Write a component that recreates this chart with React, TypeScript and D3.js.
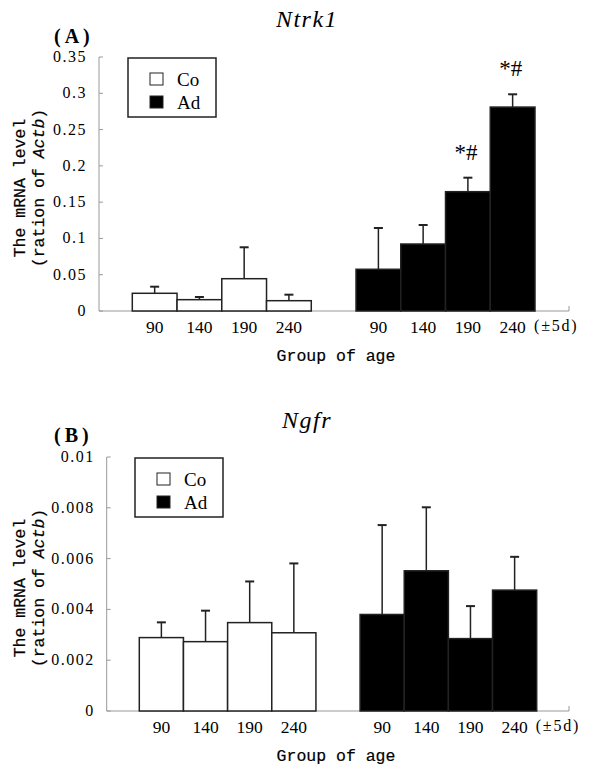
import React from "react";
import * as d3 from "d3";

const ageGroups = ["90", "140", "190", "240"];
const seriesNames = ["Co", "Ad"];

// Panel A: Ntrk1
const ntrkCo = [0.0244, 0.0156, 0.0445, 0.0142];
const ntrkCoErr = [0.0091, 0.0037, 0.0433, 0.0083];
const ntrkAd = [0.0575, 0.0923, 0.1644, 0.281];
const ntrkAdErr = [0.0569, 0.0262, 0.0193, 0.0176];
const ntrkMarks = ["", "", "*#", "*#"];
const ntrkTicks = [0, 0.05, 0.1, 0.15, 0.2, 0.25, 0.3, 0.35];

// Panel B: Ngfr
const ngfrCo = [0.00289, 0.00273, 0.00348, 0.00308];
const ngfrCoErr = [0.0006, 0.00122, 0.00162, 0.00273];
const ngfrAd = [0.0038, 0.00552, 0.00285, 0.00476];
const ngfrAdErr = [0.00352, 0.0025, 0.00128, 0.00131];
const ngfrMarks = ["", "", "", ""];
const ngfrTicks = [0, 0.002, 0.004, 0.006, 0.008, 0.01];

const mono = "'Liberation Mono', 'DejaVu Sans Mono', monospace";
const serif = "'Liberation Serif', 'DejaVu Serif', serif";

type PanelProps = {
  letter: string;
  gene: string;
  co: number[];
  coErr: number[];
  ad: number[];
  adErr: number[];
  marks: string[];
  ticks: number[];
  yMax: number;
  axisX: number;
  y0: number;
  yTop: number;
  barStart: number;
  barEnd: number;
  xEnd: number;
  legend: { x: number; y: number; w: number; h: number };
  titleY: number;
  letterY: number;
};

function Panel(p: PanelProps) {
  const slots = [
    ...ageGroups.map((g) => "Co" + g),
    "gap",
    ...ageGroups.map((g) => "Ad" + g),
  ];
  const x = d3.scaleBand<string>().domain(slots).range([p.barStart, p.barEnd]).padding(0);
  const y = d3.scaleLinear().domain([0, p.yMax]).range([p.y0, p.yTop]);
  const bw = x.bandwidth();
  const bars: { key: string; v: number; e: number; fill: string; mark: string; label: string }[] = [];
  ageGroups.forEach((g, i) => {
    bars.push({ key: "Co" + g, v: p.co[i], e: p.coErr[i], fill: "#fff", mark: "", label: g });
  });
  ageGroups.forEach((g, i) => {
    bars.push({ key: "Ad" + g, v: p.ad[i], e: p.adErr[i], fill: "#000", mark: p.marks[i], label: g });
  });
  const fmt = (t: number) => (t === 0 ? "0" : String(+t.toFixed(4)));
  const midY = (p.y0 + p.yTop) / 2 + 4;
  const capW = 9;
  return (
    <g>
      <text x={307} y={p.titleY} textAnchor="middle" fontFamily={serif} fontStyle="italic" fontSize={24} letterSpacing={1.5}>
        {p.gene}
      </text>
      <text x={54} y={p.letterY} fontFamily={serif} fontWeight="bold" fontSize={20} letterSpacing={4}>
        {"(" + p.letter + ")"}
      </text>
      {/* axes */}
      <line x1={p.axisX} x2={p.axisX} y1={p.yTop} y2={p.y0} stroke="#999" strokeWidth={1} />
      <line x1={p.axisX} x2={p.xEnd} y1={p.y0} y2={p.y0} stroke="#999" strokeWidth={1} />
      <line x1={p.xEnd} x2={p.xEnd} y1={p.y0 - 5} y2={p.y0} stroke="#999" strokeWidth={1} />
      {p.ticks.map((t) => (
        <g key={t}>
          <line x1={p.axisX} x2={p.axisX + 4} y1={y(t)} y2={y(t)} stroke="#999" />
          <text x={p.axisX - 12} y={y(t) + 5} textAnchor="end" fontFamily={serif} fontSize={16} letterSpacing={1.5}>
            {fmt(t)}
          </text>
        </g>
      ))}
      {/* bars */}
      {bars.map((b) => {
        const bx = x(b.key) as number;
        const cx = bx + bw / 2;
        return (
          <g key={b.key}>
            <line x1={cx} x2={cx} y1={y(b.v)} y2={y(b.v + b.e)} stroke="#222" strokeWidth={1.5} />
            <line x1={cx - capW / 2} x2={cx + capW / 2} y1={y(b.v + b.e)} y2={y(b.v + b.e)} stroke="#222" strokeWidth={2} />
            <rect x={bx} y={y(b.v)} width={bw} height={p.y0 - y(b.v)} fill={b.fill} stroke="#222" strokeWidth={1.5} />
            {b.mark ? (
              <text x={cx - 2} y={y(b.v + b.e) - 18} textAnchor="middle" fontFamily={serif} fontSize={23}>
                {b.mark}
              </text>
            ) : null}
            <text x={cx} y={p.y0 + 22} textAnchor="middle" fontFamily={serif} fontSize={17.5}>
              {b.label}
            </text>
          </g>
        );
      })}
      <text x={p.barEnd - 1} y={p.y0 + 20} fontFamily={serif} fontSize={16} letterSpacing={1.8}>
        {"(±5d)"}
      </text>
      <text x={336} y={p.y0 + 50} textAnchor="middle" fontFamily={mono} fontSize={16.5} stroke="#000" strokeWidth={0.2}>
        Group of age
      </text>
      {/* y title */}
      <g transform={`translate(25, ${midY}) rotate(-90)`} stroke="#000" strokeWidth={0.2}>
        <text x={0} y={0} textAnchor="middle" fontFamily={mono} fontSize={16.5}>
          The mRNA level
        </text>
        <text x={0} y={19} textAnchor="middle" fontFamily={mono} fontSize={16.5}>
          (ration of <tspan fontStyle="italic">Actb</tspan>)
        </text>
      </g>
      {/* legend */}
      <rect x={p.legend.x} y={p.legend.y} width={p.legend.w} height={p.legend.h} fill="#fff" stroke="#222" strokeWidth={1.5} />
      {seriesNames.map((s, i) => (
        <g key={s}>
          <rect
            x={p.legend.x + 22}
            y={p.legend.y + 15 + i * 23}
            width={13}
            height={12}
            fill={i === 0 ? "#fff" : "#000"}
            stroke="#222"
            strokeWidth={1}
          />
          <text x={p.legend.x + 49} y={p.legend.y + 28 + i * 23} fontFamily={serif} fontSize={19}>
            {s}
          </text>
        </g>
      ))}
    </g>
  );
}

export default function App() {
  return (
    <svg width={600} height={769} style={{ position: "absolute", left: 0, top: 0, background: "#fff" }}>
      <rect width={600} height={769} fill="#fff" />
      <Panel
        letter="A"
        gene="Ntrk1"
        co={ntrkCo}
        coErr={ntrkCoErr}
        ad={ntrkAd}
        adErr={ntrkAdErr}
        marks={ntrkMarks}
        ticks={ntrkTicks}
        yMax={0.35}
        axisX={99}
        y0={311}
        yTop={57}
        barStart={132.3}
        barEnd={535}
        xEnd={569}
        legend={{ x: 128, y: 58, w: 88, h: 59 }}
        titleY={27}
        letterY={43}
      />
      <Panel
        letter="B"
        gene="Ngfr"
        co={ngfrCo}
        coErr={ngfrCoErr}
        ad={ngfrAd}
        adErr={ngfrAdErr}
        marks={ngfrMarks}
        ticks={ngfrTicks}
        yMax={0.01}
        axisX={106.7}
        y0={711}
        yTop={457}
        barStart={139.3}
        barEnd={536.7}
        xEnd={569}
        legend={{ x: 135, y: 458, w: 88, h: 59 }}
        titleY={428}
        letterY={442}
      />
    </svg>
  );
}
